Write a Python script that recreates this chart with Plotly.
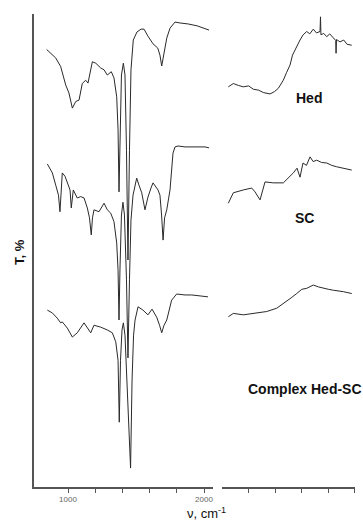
import plotly.graph_objects as go

# ---- Left panel (fingerprint region), wavenumber cm-1 and T (arbitrary offset %) ----
hed_left_wn = [843, 873, 910, 946, 983, 1007, 1032, 1057, 1081, 1105, 1130, 1147, 1179, 1204,
               1240, 1265, 1289, 1318, 1338, 1358, 1368, 1375, 1382, 1393, 1407, 1419, 1430,
               1441, 1452, 1463, 1480, 1507, 1537, 1559, 1588, 1625, 1660, 1676, 1689, 1702,
               1726, 1750, 1787, 1824, 1882, 1949, 1993, 2037]
hed_left_t = [92.5, 91.7, 90.7, 88.9, 85.0, 83.3, 80.1, 81.5, 81.8, 85.3, 86.0, 85.4, 89.9, 89.6,
              88.6, 88.2, 87.1, 87.8, 86.5, 82.5, 75.5, 62.4, 75.5, 87.1, 89.6, 87.1, 71.2,
              48.0, 71.2, 88.2, 94.5, 96.2, 96.8, 96.8, 95.3, 93.7, 92.8, 91.3, 89.0, 91.3,
              94.9, 97.0, 98.3, 98.1, 97.9, 97.5, 97.0, 96.6]

sc_left_wn = [848, 885, 910, 930, 941, 952, 958, 978, 995, 1015, 1024, 1033, 1039, 1068, 1093,
              1118, 1142, 1158, 1171, 1180, 1191, 1228, 1265, 1289, 1314, 1338, 1358, 1368,
              1375, 1382, 1393, 1404, 1415, 1430, 1441, 1452, 1463, 1478, 1505, 1522, 1542,
              1566, 1588, 1610, 1625, 1662, 1676, 1688, 1699, 1710, 1726, 1750, 1765, 1772,
              1787, 1809, 1860, 1910, 1956, 2007, 2037]
sc_left_t = [68.3, 66.4, 63.8, 61.7, 58.2, 64.9, 66.4, 65.7, 64.5, 62.8, 59.0, 61.7, 62.8, 61.1,
             61.4, 61.1, 59.0, 56.9, 53.3, 56.9, 58.6, 58.2, 60.0, 58.6, 57.9, 56.1, 51.6, 45.9,
             35.3, 45.9, 57.5, 60.2, 57.5, 43.8, 27.3, 43.8, 56.4, 61.7, 65.3, 63.8, 62.2,
             58.6, 61.3, 63.2, 64.3, 62.8, 61.7, 57.5, 52.2, 56.9, 58.6, 62.8, 68.1, 70.6,
             71.9, 72.1, 71.9, 71.9, 71.9, 71.9, 71.7]

cx_left_wn = [848, 885, 921, 946, 958, 995, 1032, 1068, 1118, 1167, 1191, 1240, 1289, 1326,
              1351, 1368, 1377, 1386, 1397, 1407, 1419, 1434, 1460, 1471, 1482, 1493, 1515,
              1551, 1588, 1618, 1652, 1673, 1689, 1706, 1726, 1762, 1799, 1860, 1910, 1971, 2029]
cx_left_t = [37.4, 36.8, 35.7, 34.7, 34.9, 33.6, 31.7, 32.6, 34.7, 32.6, 34.2, 33.8, 33.2, 32.6,
             30.7, 26.8, 13.7, 26.8, 33.2, 34.7, 32.1, 22.6, 4.0, 22.6, 32.1, 35.3, 38.1,
             37.4, 36.4, 37.6, 35.9, 34.2, 32.6, 34.2, 35.3, 39.5, 40.8, 40.6, 40.6, 40.4, 40.2]

# ---- Right panel (high wavenumber region) ----
hed_right_wn = [2095, 2170, 2245, 2320, 2400, 2471, 2550, 2621, 2722, 2790, 2847, 2922, 2970,
                3023, 3060, 3098, 3140, 3173, 3220, 3274, 3320, 3373, 3420, 3474, 3481, 3488,
                3530, 3575, 3620, 3674, 3710, 3715, 3722, 3775, 3830, 3880, 3951]
hed_right_t = [84.6, 85.3, 84.9, 84.6, 84.8, 84.1, 83.9, 83.4, 83.1, 83.6, 84.3, 86.0, 87.6,
               89.2, 91.3, 92.4, 93.8, 94.5, 95.6, 96.3, 95.8, 96.8, 96.0, 96.3, 99.4, 95.6,
               95.9, 95.2, 95.8, 94.9, 94.4, 91.7, 94.6, 94.1, 94.5, 93.6, 93.4]

sc_right_wn = [2095, 2170, 2320, 2447, 2496, 2572, 2647, 2772, 2922, 2997, 3072, 3128, 3173,
               3218, 3270, 3324, 3370, 3424, 3500, 3575, 3650, 3725, 3800, 3880, 3951]
sc_right_t = [60.0, 62.2, 62.8, 63.2, 62.4, 60.7, 64.5, 64.3, 64.3, 65.3, 66.4, 67.4, 65.5,
              68.5, 68.0, 69.8, 68.8, 69.1, 68.6, 68.5, 68.0, 67.7, 67.5, 67.2, 67.0]

cx_right_wn = [2095, 2170, 2320, 2471, 2672, 2823, 2973, 3050, 3123, 3200, 3274, 3373, 3450,
               3524, 3600, 3674, 3750, 3824, 3951]
cx_right_t = [36.0, 36.7, 36.4, 36.7, 37.1, 37.8, 39.2, 40.1, 40.9, 41.8, 42.0, 42.7, 42.3,
              42.0, 41.8, 41.6, 41.5, 41.3, 40.9]

left_tickvals = [1000, 2000]
left_minor_ticks = [1200, 1400, 1600, 1800]
right_tickvals = [4000]
right_minor_ticks = [2400, 2800, 3200, 3600]

labels = ["Hed", "SC", "Complex Hed-SC"]

line_style = dict(color="#2a2a2a", width=1)
fig = go.Figure()
for wn, t in [(hed_left_wn, hed_left_t), (sc_left_wn, sc_left_t), (cx_left_wn, cx_left_t)]:
    fig.add_trace(go.Scatter(x=wn, y=t, mode="lines", line=line_style, xaxis="x", yaxis="y",
                             showlegend=False, hoverinfo="skip"))
for wn, t in [(hed_right_wn, hed_right_t), (sc_right_wn, sc_right_t), (cx_right_wn, cx_right_t)]:
    fig.add_trace(go.Scatter(x=wn, y=t, mode="lines", line=line_style, xaxis="x2", yaxis="y",
                             showlegend=False, hoverinfo="skip"))

axis_color = "#555555"
common_x = dict(showline=True, linecolor=axis_color, linewidth=1.5, ticks="outside",
                ticklen=4, tickcolor=axis_color, showgrid=False, zeroline=False,
                tickfont=dict(family="Liberation Sans, Arial", size=8, color="#666666"),
                anchor="y")
fig.update_layout(
    width=363, height=521,
    margin=dict(l=34, r=8, t=14, b=34),
    paper_bgcolor="white", plot_bgcolor="white",
    xaxis=dict(domain=[0, 0.5576], range=[750, 2066], tickmode="array", tickvals=left_tickvals,
               minor=dict(tickmode="array", tickvals=left_minor_ticks, ticks="outside",
                          ticklen=4, tickcolor=axis_color, showgrid=False),
               **common_x),
    xaxis2=dict(domain=[0.5857, 1], range=[2000, 4000], tickmode="array", tickvals=right_tickvals,
                minor=dict(tickmode="array", tickvals=right_minor_ticks, ticks="outside",
                           ticklen=4, tickcolor=axis_color, showgrid=False),
                **common_x),
    yaxis=dict(range=[0, 100], showline=True, linecolor=axis_color, linewidth=2,
               showticklabels=False, ticks="", showgrid=False, zeroline=False),
)

label_pos = [(3313, 82.2, "center"), (3238, 56.8, "center"), (2361, 20.7, "left")]
for text, (x, y, anchor) in zip(labels, label_pos):
    fig.add_annotation(x=x, y=y, xref="x2", yref="y", text="<b>%s</b>" % text,
                       showarrow=False, xanchor=anchor, yanchor="middle",
                       font=dict(family="Liberation Sans, Arial", size=14, color="#111111"))

fig.add_annotation(x=-0.0436, y=0.497, xref="paper", yref="paper", text="<b>T, %</b>",
                   textangle=-90, showarrow=False, xanchor="center", yanchor="middle",
                   font=dict(family="Liberation Sans, Arial", size=13, color="#111111"))
fig.add_annotation(x=0.536, y=-0.055, xref="paper", yref="paper", text="ν, cm<sup>-1</sup>",
                   showarrow=False, xanchor="center", yanchor="middle",
                   font=dict(family="Liberation Sans, Arial", size=13, color="#111111"))

fig.write_html("out.html", config={"displayModeBar": False},
               post_script="document.body.style.margin='0';")
